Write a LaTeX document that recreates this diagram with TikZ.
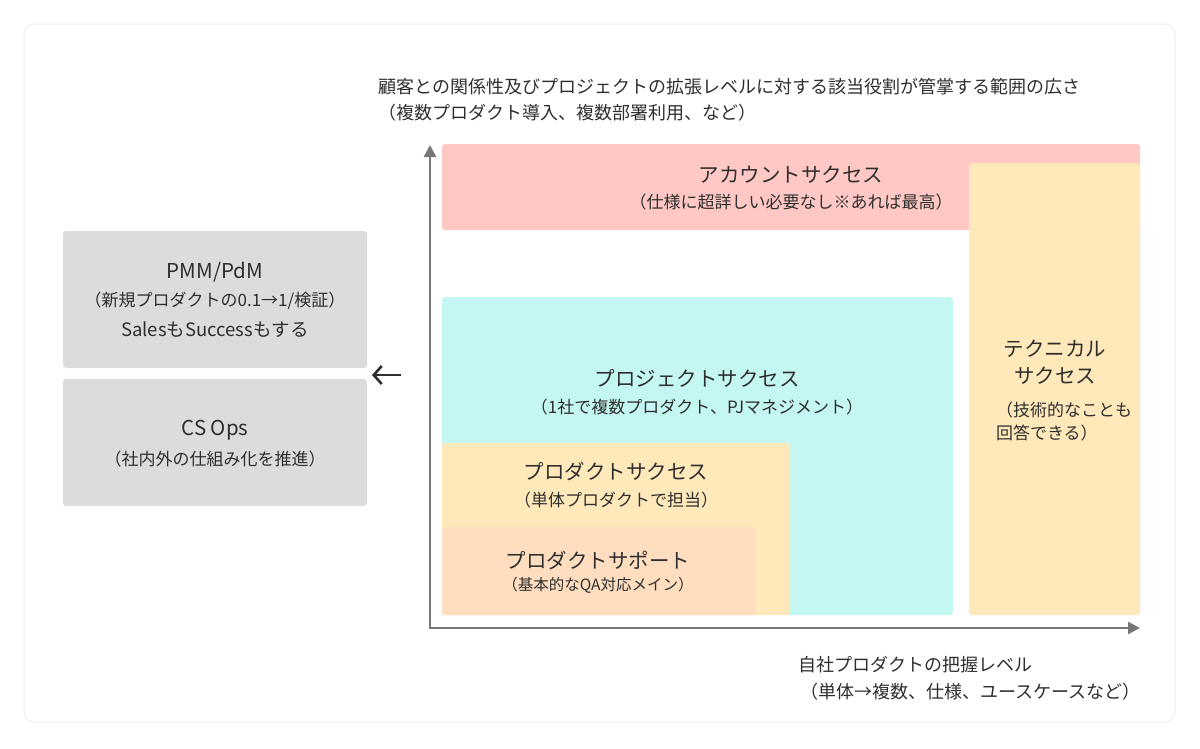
\documentclass[tikz,border=0pt]{standalone}
\usepackage{fontspec}
\setmainfont{Noto Sans CJK JP}
\usetikzlibrary{arrows.meta}
\definecolor{acctred}{HTML}{FFC8C4}
\definecolor{techyellow}{HTML}{FFE8BA}
\definecolor{projcyan}{HTML}{C4F7F2}
\definecolor{supppeach}{HTML}{FFDEC0}
\definecolor{boxgray}{HTML}{DCDCDC}
\definecolor{axisgray}{HTML}{777777}
\definecolor{framegray}{HTML}{EEEEEE}
\definecolor{txtgray}{HTML}{2E2E2E}
\tikzset{
  area/.style={rounded corners=3pt, inner sep=0pt},
  ttl/.style={text=txtgray, font=\fontsize{20.5}{27}\selectfont},
  sub/.style={text=txtgray, font=\fontsize{17}{23}\selectfont},
  small/.style={text=txtgray, font=\fontsize{15.5}{20}\selectfont},
  axlabel/.style={text=txtgray, anchor=west, font=\fontsize{18}{24}\selectfont},
}
\begin{document}
\begin{tikzpicture}[x=1pt,y=-1pt]
		\useasboundingbox (0,0) rectangle (1200,748);
		\draw[draw=framegray, line width=1pt, rounded corners=10pt] (24,24) rectangle (1175,722);
		
		% axes
		\coordinate (ytip) at (430,145);
		\coordinate (O) at (430,628);
		\coordinate (xtip) at (1140,628);
		\draw[axisgray, line width=2.5pt, {Triangle[length=12pt,width=12pt]}-{Triangle[length=12pt,width=12pt]}] (ytip) -- (O) -- (xtip);
		\node[axlabel] (ylab1) at (375,87) {顧客との関係性及びプロジェクトの拡張レベルに対する該当役割が管掌する範囲の広さ};
		\node[axlabel] (ylab2) at (375,113) {（複数プロダクト導入、複数部署利用、など）};
		\node[axlabel] (xlab1) at (795,665) {自社プロダクトの把握レベル};
		\node[axlabel] (xlab2) at (797,692) {（単体→複数、仕様、ユースケースなど）};
		
		% areas
		\node[area, fill=acctred, minimum width=698pt, minimum height=86pt] (acct) at (791,187) {};
		\node[area, fill=techyellow, minimum width=171pt, minimum height=452pt] (tech) at (1054.5,389) {};
		\node[area, fill=projcyan, minimum width=511pt, minimum height=318pt] (proj) at (697.5,456) {};
		\node[area, fill=techyellow, minimum width=348pt, minimum height=172pt] (prod) at (616,529) {};
		\node[area, fill=supppeach, minimum width=313pt, minimum height=88pt] (supp) at (598.5,571) {};
		
		\node[ttl] (acct-t) at (791,175) {アカウントサクセス};
		\node[sub] (acct-s) at (791,202) {（仕様に超詳しい必要なし※あれば最高）};
		\node[ttl, align=center] (tech-t) at (1055,362) {テクニカル\\サクセス};
		\node[sub, align=left] (tech-s) at (1064,422) {（技術的なことも\\回答できる）};
		\node[ttl] (proj-t) at (697,378) {プロジェクトサクセス};
		\node[sub] (proj-s) at (697,407) {（1社で複数プロダクト、PJマネジメント）};
		\node[ttl] (prod-t) at (616,472) {プロダクトサクセス};
		\node[sub] (prod-s) at (616,500) {（単体プロダクトで担当）};
		\node[ttl] (supp-t) at (598,560) {プロダクトサポート};
		\node[small] (supp-s) at (598,585) {（基本的なQA対応メイン）};
		
		% roles outside
		\node[area, fill=boxgray, minimum width=304pt, minimum height=137pt] (pmm) at (215,299.5) {};
		\node[area, fill=boxgray, minimum width=304pt, minimum height=127pt] (csops) at (215,442.5) {};
		\node[ttl] (pmm-t) at (215,272) {PMM/PdM};
		\node[sub] (pmm-s) at (215,301) {（新規プロダクトの0.1→1/検証）};
		\node[sub, font=\fontsize{18.5}{24}\selectfont] (pmm-u) at (215,330) {SalesもSuccessもする};
		\node[ttl] (csops-t) at (215,430) {CS Ops};
		\node[sub] (csops-s) at (215,459) {（社内外の仕組み化を推進）};
		
		\coordinate (arrS) at (401,375);
		\coordinate (arrE) at (372,375);
		\draw[txtgray, line width=2.6pt, -{Straight Barb[length=8pt,width=18pt]}] (arrS) -- (arrE);
		\end{tikzpicture}
\end{document}
